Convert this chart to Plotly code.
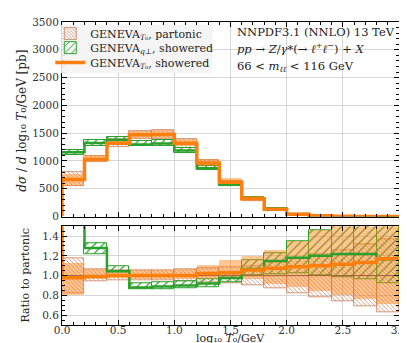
import plotly.graph_objects as go

# ---- data ----
edges = [0.0, 0.2, 0.4, 0.6, 0.8, 1.0, 1.2, 1.4, 1.6, 1.8, 2.0, 2.2, 2.4, 2.6, 2.8, 3.0]

partonic = [680, 1035, 1320, 1470, 1475, 1320, 945, 600, 304, 121, 37.6, 11.0, 4.0, 1.5, 0.5]
partonic_lo = [558, 973, 1254, 1397, 1401, 1241, 879, 552, 274, 105, 31.0, 8.6, 2.96, 1.04, 0.315]
partonic_hi = [802, 1097, 1386, 1544, 1549, 1399, 1011, 648, 334, 137, 44.2, 13.4, 5.04, 1.97, 0.685]

qt_shower = [1156, 1325, 1379, 1294, 1313, 1188, 869, 585, 324, 139, 44.4, 13.2, 4.88, 1.83, 0.583]
qt_shower_lo = [1102, 1263, 1360, 1264, 1269, 1148, 832, 558, 304, 123, 38.4, 11.0, 3.92, 1.44, 0.46]
qt_shower_hi = [1204, 1377, 1439, 1352, 1372, 1241, 907, 618, 350, 148, 50.8, 16.0, 6.2, 2.4, 0.80]

t0_shower = [666, 1025, 1320, 1470, 1475, 1320, 964, 618, 321, 130, 41.0, 12.1, 4.46, 1.70, 0.585]
t0_shower_lo = [544, 994, 1280, 1411, 1416, 1267, 907, 582, 292, 111, 33.1, 9.24, 3.2, 1.14, 0.355]
t0_shower_hi = [762, 1107, 1373, 1544, 1549, 1399, 1040, 696, 365, 152, 50.8, 16.0, 6.3, 2.48, 0.875]

x_ticks = [0.0, 0.5, 1.0, 1.5, 2.0, 2.5, 3.0]
x_ticklabels = ["0.0", "0.5", "1.0", "1.5", "2.0", "2.5", "3.0"]
y_ticks = [0, 500, 1000, 1500, 2000, 2500, 3000, 3500]
r_ticks = [0.6, 0.8, 1.0, 1.2, 1.4]
r_ticklabels = ["0.6", "0.8", "1.0", "1.2", "1.4"]

# ---- styling ----
FONT = "DejaVu Serif"
FS_TICK = 10.5
FS = 12
FS_LEG = 11
BROWN = "rgb(200,128,92)"
GREEN = "#2ca02c"
ORANGE = "#ff7f0e"
ORANGE_FILL = "rgba(255,127,14,0.45)"

n = len(partonic)
centers = [(edges[i] + edges[i + 1]) / 2 for i in range(n)]
widths = [edges[i + 1] - edges[i] for i in range(n)]


def ratio(vals):
    return [v / p for v, p in zip(vals, partonic)]


def step_xy(vals, start=None, end=None):
    xs = [edges[0]] + edges[:-1] + [edges[-1]]
    ys = [start if start is not None else vals[0]] + list(vals) + [vals[-1]]
    if end is not None:
        xs = xs + [edges[-1]]
        ys = ys + [end]
    return xs, ys


fig = go.Figure()


def band(lo, hi, row, name, kind, legend=None):
    xa = "x" if row == 1 else "x2"
    ya = "y" if row == 1 else "y2"
    h = [b - a for a, b in zip(lo, hi)]
    if kind == "partonic":
        marker = dict(color="rgba(0,0,0,0)",
                      pattern=dict(shape="\\", fgcolor=BROWN, bgcolor="rgba(0,0,0,0)",
                                   size=3, solidity=0.25, fillmode="replace"),
                      line=dict(color=BROWN, width=0.8))
    elif kind == "green":
        marker = dict(color="rgba(0,0,0,0)",
                      pattern=dict(shape="/", fgcolor=GREEN, bgcolor="rgba(0,0,0,0)",
                                   size=6, solidity=0.2, fillmode="replace"),
                      line=dict(color=GREEN, width=1))
    else:
        marker = dict(color=ORANGE_FILL, line=dict(width=0))
    kw = dict(showlegend=False)
    if legend:
        kw = dict(showlegend=True, legend=legend)
    fig.add_trace(go.Bar(x=centers, y=h, base=lo, width=widths, marker=marker,
                         xaxis=xa, yaxis=ya, name=name, **kw))


NAME_P = "GENEVA<sub><i>T</i>₀</sub>, partonic"
NAME_Q = "GENEVA<sub><i>q</i>⊥</sub>, showered"
NAME_S = "GENEVA<sub><i>T</i>₀</sub>, showered"

# top panel
band(partonic_lo, partonic_hi, 1, NAME_P, "partonic", legend="legend")
band(qt_shower_lo, qt_shower_hi, 1, NAME_Q, "green", legend="legend2")
band(t0_shower_lo, t0_shower_hi, 1, NAME_S, "orange")
xs, ys = step_xy(partonic)
fig.add_trace(go.Scatter(x=xs, y=ys, mode="lines", line=dict(color=BROWN, width=1, shape="hv"),
                         showlegend=False, xaxis="x", yaxis="y"))
xs, ys = step_xy(qt_shower)
fig.add_trace(go.Scatter(x=xs, y=ys, mode="lines", line=dict(color=GREEN, width=2.5, shape="hv"),
                         showlegend=False, xaxis="x", yaxis="y"))
xs, ys = step_xy(t0_shower, start=0, end=0)
fig.add_trace(go.Scatter(x=xs, y=ys, mode="lines", line=dict(color=ORANGE, width=3.5, shape="hv"),
                         name=NAME_S, showlegend=True, legend="legend3", xaxis="x", yaxis="y"))

# ratio panel
band(ratio(partonic_lo), ratio(partonic_hi), 2, NAME_P, "partonic")
band(ratio(qt_shower_lo), ratio(qt_shower_hi), 2, NAME_Q, "green")
band(ratio(t0_shower_lo), ratio(t0_shower_hi), 2, NAME_S, "orange")
xs, ys = step_xy(ratio(partonic))
fig.add_trace(go.Scatter(x=xs, y=ys, mode="lines", line=dict(color="rgb(160,95,60)", width=1, shape="hv"),
                         showlegend=False, xaxis="x2", yaxis="y2"))
xs, ys = step_xy(ratio(qt_shower))
fig.add_trace(go.Scatter(x=xs, y=ys, mode="lines", line=dict(color=GREEN, width=2.5, shape="hv"),
                         showlegend=False, xaxis="x2", yaxis="y2"))
xs, ys = step_xy(ratio(t0_shower), start=5)
fig.add_trace(go.Scatter(x=xs, y=ys, mode="lines", line=dict(color=ORANGE, width=3.5, shape="hv"),
                         showlegend=False, xaxis="x2", yaxis="y2"))

axis_common = dict(showline=True, linecolor="black", linewidth=1, mirror="ticks",
                   ticks="inside", ticklen=5, tickwidth=1, tickcolor="black",
                   showgrid=True, gridcolor="#d6d6d6", gridwidth=1, zeroline=False,
                   ticklabeloverflow="allow",
                   tickfont=dict(family=FONT, size=FS_TICK, color="#333"))

leg_common = dict(xanchor="left", yanchor="middle", bgcolor="rgba(0,0,0,0)", borderwidth=0,
                  font=dict(family=FONT, size=FS_LEG, color="#222"), itemwidth=30)


def py(px):
    return (317 - px) / 307


def pxx(px):
    return (px - 54) / 345


fig.update_layout(
    width=407, height=343,
    margin=dict(l=54, r=8, t=10, b=26),
    paper_bgcolor="white", plot_bgcolor="white",
    barmode="overlay", bargap=0,
    font=dict(family=FONT, size=FS, color="#222"),
    xaxis=dict(axis_common, domain=[0, 1], range=[0, 3], anchor="y", tickvals=x_ticks,
               showticklabels=False, minor=dict(dtick=0.1, ticklen=3, tickcolor="black", ticks="inside")),
    yaxis=dict(axis_common, domain=[0.358, 1], range=[0, 3500], anchor="x", tickvals=y_ticks,
               minor=dict(dtick=100, ticklen=3, tickcolor="black", ticks="inside")),
    xaxis2=dict(axis_common, domain=[0, 1], range=[0, 3], anchor="y2", matches="x",
                tickvals=x_ticks, ticktext=x_ticklabels, ticklabelstandoff=-5,
                minor=dict(dtick=0.1, ticklen=3, tickcolor="black", ticks="inside")),
    yaxis2=dict(axis_common, domain=[0, 0.326], range=[0.5, 1.5], anchor="x2",
                tickvals=r_ticks, ticktext=r_ticklabels,
                minor=dict(dtick=0.05, ticklen=3, tickcolor="black", ticks="inside")),
    legend=dict(leg_common, x=pxx(42), y=py(21.7)),
    legend2=dict(leg_common, x=pxx(42), y=py(36.0)),
    legend3=dict(leg_common, x=pxx(42), y=py(51.0)),
    shapes=[dict(type="rect", xref="paper", yref="paper", x0=pxx(53), x1=pxx(208),
                 y0=py(62), y1=py(13), fillcolor="rgba(244,244,244,0.9)",
                 line=dict(width=0), layer="above")],
    annotations=[
        dict(text="NNPDF3.1 (NNLO) 13 TeV", x=pxx(231), y=py(20), xref="paper", yref="paper",
             xanchor="left", yanchor="middle", showarrow=False, font=dict(size=11.5)),
        dict(text="<i>pp</i> → <i>Z</i>/<i>γ</i>*(→ <i>ℓ</i><sup>+</sup><i>ℓ</i><sup>−</sup>) + <i>X</i>",
             x=pxx(231), y=py(37), xref="paper", yref="paper",
             xanchor="left", yanchor="middle", showarrow=False, font=dict(size=11.5)),
        dict(text="66 &lt; <i>m</i><sub><i>ℓℓ</i></sub> &lt; 116 GeV", x=pxx(231), y=py(55),
             xref="paper", yref="paper", xanchor="left", yanchor="middle", showarrow=False,
             font=dict(size=11.5)),
        dict(text="<i>dσ</i> / <i>d</i> log₁₀ <i>T</i>₀/GeV [pb]",
             x=pxx(13), y=py(110), xref="paper", yref="paper", textangle=-90,
             xanchor="center", yanchor="middle", showarrow=False),
        dict(text="Ratio to partonic", x=pxx(17), y=py(267), xref="paper", yref="paper",
             textangle=-90, xanchor="center", yanchor="middle", showarrow=False,
             font=dict(size=11)),
        dict(text="log₁₀ <i>T</i>₀/GeV", x=pxx(226), y=py(331),
             xref="paper", yref="paper", xanchor="center", yanchor="middle", showarrow=False,
             font=dict(size=11)),
    ],
)

fig.write_html("out.html")
